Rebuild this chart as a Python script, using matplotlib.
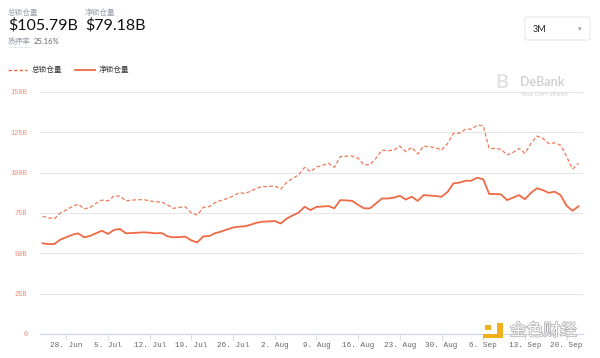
#!/usr/bin/env python3
"""DeFi locked value over the last 3 months: total vs net locked (DeBank style)."""
import matplotlib
matplotlib.use("Agg")
import matplotlib.pyplot as plt
import pandas as pd
from matplotlib.patches import FancyBboxPatch, Rectangle
import matplotlib.patheffects as pe

plt.rcParams["font.family"] = ["Noto Sans CJK SC", "DejaVu Sans"]

# daily values, billions USD
dates = pd.date_range("2021-06-24", "2021-09-22", freq="D")
total_locked = [
    73, 72, 71.5, 75, 77, 79, 80.5, 77.5, 78.5, 81,
    83, 82.5, 85.5, 85.5, 82.5, 83, 83.2, 83.3, 82.5, 81.9,
    81.8, 80, 77.9, 78.5, 78.8, 75, 73.8, 78.5, 79, 81.5,
    82.8, 84, 85.5, 87.5, 87.2, 88.5, 90.5, 91.3, 91.5, 91.7,
    89.8, 94, 96.5, 98.6, 103.3, 100.6, 103.5, 104.5, 105.8, 103.3,
    109.9, 110.2, 110.3, 108.9, 104.8, 105, 109, 114, 113.6, 114,
    116.5, 113, 115.7, 111.6, 116.5, 116, 115.5, 114, 118, 124.4,
    124.5, 126.9, 127, 129.5, 129, 115, 115, 114.5, 111, 112.5,
    115, 112, 118, 122.7, 121.3, 118, 118.5, 117, 110, 102.2,
    105.79,
]
net_locked = [
    56.2, 55.7, 55.8, 58.5, 60, 61.5, 62.4, 59.9, 60.8, 62.5,
    64, 62, 64.5, 65.1, 62.4, 62.6, 62.8, 63, 62.8, 62.4,
    62.6, 60.5, 59.9, 60.1, 60.3, 58, 56.8, 60.5, 60.7, 62.5,
    63.5, 64.8, 66, 66.5, 66.8, 67.8, 69, 69.6, 69.8, 70,
    68.5, 71.5, 73.5, 75.2, 78.9, 76.8, 78.8, 79, 79.3, 77.9,
    83, 82.8, 82.5, 80, 77.9, 77.9, 81, 84, 84, 84.5,
    85.7, 83.3, 85.1, 82.5, 86.1, 85.8, 85.5, 85.1, 88, 93.4,
    93.8, 95, 95, 96.9, 95.9, 86.8, 86.8, 86.5, 83, 84.5,
    86.1, 83.5, 87.5, 90.3, 89.2, 87.5, 88.2, 86, 79.5, 76.4,
    79.18,
]
y_ticks = [0, 25, 50, 75, 100, 125, 150]
y_labels = ["0", "25B", "50B", "75B", "100B", "125B", "150B"]
week_ticks = pd.date_range("2021-06-28", "2021-09-20", freq="7D")

W, H = 600, 358
LINE = "#ee6a45"


def fx(px):
    return px / W


def fy(py):
    return 1 - py / H


fig = plt.figure(figsize=(6, 3.58), dpi=100)
ax = fig.add_axes([fx(40), fy(334), fx(583) - fx(40), fy(92) - fy(334)])

ax.plot(dates, total_locked, color=LINE, lw=0.9, dashes=(3, 1.8), alpha=0.9)
ax.plot(dates, net_locked, color=LINE, lw=1.3)

ax.set_ylim(0, 150)
ax.set_xlim(dates[0] - pd.Timedelta(hours=10), dates[-1] + pd.Timedelta(hours=18))
ax.set_yticks(y_ticks)
ax.set_yticklabels(y_labels, family="Liberation Mono")
ax.yaxis.grid(True, color="#e6e6e6", lw=0.8)
ax.set_axisbelow(True)
for side in ("top", "right", "left"):
    ax.spines[side].set_visible(False)
ax.spines["bottom"].set_color("#ccd6eb")
ax.spines["bottom"].set_linewidth(0.8)
ax.tick_params(axis="y", length=0, pad=9, labelsize=5, labelcolor="#f08a70")

ax.set_xticks(week_ticks)
ax.set_xticklabels([f"{d.day}. {d.strftime('%b')}" for d in week_ticks],
                   family="Liberation Mono", fontsize=5.5, color="#666666")
ax.tick_params(axis="x", length=4, width=0.6, color="#ccd6eb", pad=2)

# header
fig.text(fx(8), fy(13), "总锁仓量", fontsize=5.5, color="#9aa0aa", va="center")
fig.text(fx(8), fy(25), "$105.79B", fontsize=11.5, color="#111111", va="center",
         family="Lato")
fig.text(fx(85), fy(13), "净锁仓量", fontsize=5.5, color="#9aa0aa", va="center")
fig.text(fx(85), fy(25), "$79.18B", fontsize=11.5, color="#111111", va="center",
         family="Lato")
fig.text(fx(8), fy(42), "质押率", fontsize=5.5, color="#9aa0aa", va="center")
fig.add_artist(plt.Line2D([fx(8), fx(30)], [fy(47), fy(47)], color="#c0c4cc",
                          lw=0.5, ls=(0, (1, 1))))
fig.text(fx(34), fy(42), "25.16%", fontsize=5.5, color="#666666", va="center",
         family="Lato")

# 3M dropdown
fig.add_artist(FancyBboxPatch((fx(525), fy(40)), fx(590) - fx(525), fy(17) - fy(40),
                              boxstyle="round,pad=0,rounding_size=0.004",
                              fc="white", ec="#e0e0e0", lw=0.6))
fig.text(fx(533), fy(29), "3M", fontsize=6.5, color="#222222", va="center",
         family="Lato")
fig.text(fx(580), fy(29), "▾", fontsize=5, color="#999999", va="center", ha="center",
         family="DejaVu Sans")

# legend
fig.add_artist(plt.Line2D([fx(8), fx(27)], [fy(70), fy(70)], color=LINE, lw=1.0,
                          dashes=(2.5, 1.5)))
fig.text(fx(32), fy(70), "总锁仓量", fontsize=5.5, color="#333333", va="center")
fig.add_artist(plt.Line2D([fx(75), fx(95)], [fy(70), fy(70)], color=LINE, lw=1.3))
fig.text(fx(99), fy(70), "净锁仓量", fontsize=5.5, color="#333333", va="center")

# DeBank watermark
fig.text(fx(502), fy(83), "B", fontsize=14, color="#e2e2e2", ha="center",
         va="center", weight="bold", family="Lato")
fig.text(fx(520), fy(82), "DeBank", fontsize=9, color="#d2d2d2", va="center",
         weight="bold", family="Lato")
fig.text(fx(520), fy(95), "Your DeFi Wallet", fontsize=4.5, color="#d2d2d2",
         va="center", family="Lato")

# 金色财经 watermark
fig.add_artist(Rectangle((fx(483), fy(338)), fx(503) - fx(483), fy(334) - fy(338),
                         fc="#f0b020", ec="none"))
fig.add_artist(Rectangle((fx(497), fy(338)), fx(503) - fx(497), fy(323) - fy(338),
                         fc="#f0b020", ec="none"))
fig.add_artist(Rectangle((fx(485), fy(330)), fx(491) - fx(485), fy(325) - fy(330),
                         fc="#f0b020", ec="none"))
fig.text(fx(510), fy(331), "金色财经", fontsize=12, color="white", va="center",
         path_effects=[pe.withStroke(linewidth=1.0, foreground="#a8a8a8")])

fig.savefig("out.png", dpi=100)
